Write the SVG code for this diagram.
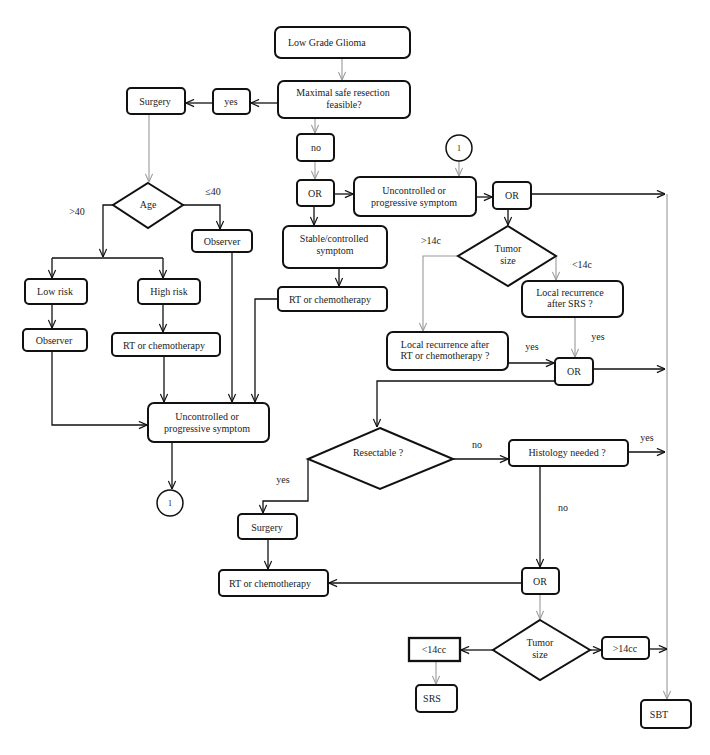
<svg xmlns="http://www.w3.org/2000/svg" width="710" height="755" viewBox="0 0 710 755">
<defs>
<marker id="a" viewBox="0 0 10 10" refX="10" refY="5" markerWidth="9" markerHeight="9" markerUnits="userSpaceOnUse" orient="auto"><path d="M1,1 L10,5 L1,9" fill="none" stroke="#111" stroke-width="1.3"/></marker>
<marker id="g" viewBox="0 0 10 10" refX="10" refY="5" markerWidth="9" markerHeight="9" markerUnits="userSpaceOnUse" orient="auto"><path d="M1,1 L10,5 L1,9" fill="none" stroke="#999" stroke-width="1.2"/></marker>
</defs>
<style>
rect.b{fill:#fff;stroke:#111;stroke-width:2}
rect.sq{fill:#fff;stroke:#111;stroke-width:2.3}
polygon{fill:#fff;stroke:#111;stroke-width:2}
circle{fill:#fff;stroke:#111;stroke-width:1.5}
text{font-family:"Liberation Serif","DejaVu Serif",serif;font-size:10px;fill:#222;text-anchor:middle}
text.s{text-anchor:start}
text.c{font-size:8px}
.k{fill:none;stroke:#111;stroke-width:1.3;marker-end:url(#a)}
.kn{fill:none;stroke:#111;stroke-width:1.3}
.gr{fill:none;stroke:#999;stroke-width:1.1;marker-end:url(#g)}
.grn{fill:none;stroke:#999;stroke-width:1.1}
</style>
<rect width="710" height="755" fill="#fff"/>
<g id="connectors">
<line class="gr" x1="342" y1="58" x2="342" y2="80"/>
<line class="gr" x1="315" y1="118" x2="315" y2="133"/>
<line class="gr" x1="315" y1="161" x2="315" y2="179"/>
<line class="gr" x1="149" y1="114" x2="149" y2="182"/>
<line class="gr" x1="459" y1="161" x2="459" y2="176"/>
<polyline class="gr" points="458,256 423,256 423,331"/>
<line class="gr" x1="556" y1="256" x2="556" y2="280"/>
<line class="gr" x1="575" y1="317" x2="575" y2="357"/>
<line class="gr" x1="540" y1="594" x2="540" y2="619"/>
<line class="gr" x1="436" y1="661" x2="436" y2="684"/>
<line class="gr" x1="667" y1="194" x2="667" y2="699"/>
<line class="k" x1="278" y1="103" x2="251" y2="103"/>
<line class="k" x1="213" y1="103" x2="186" y2="103"/>
<line class="k" x1="334" y1="194" x2="353" y2="194"/>
<line class="k" x1="476" y1="197" x2="492" y2="197"/>
<line class="k" x1="531" y1="194" x2="665" y2="194"/>
<line class="k" x1="314" y1="206" x2="314" y2="225"/>
<line class="k" x1="339" y1="268" x2="339" y2="286"/>
<line class="k" x1="508" y1="209" x2="508" y2="225"/>
<line class="k" x1="508" y1="363" x2="554" y2="363"/>
<line class="k" x1="593" y1="369" x2="665" y2="369"/>
<polyline class="k" points="555,381 377,381 377,427"/>
<line class="k" x1="453" y1="459" x2="508" y2="459"/>
<line class="k" x1="628" y1="452" x2="665" y2="452"/>
<line class="k" x1="540" y1="466" x2="540" y2="567"/>
<line class="k" x1="522" y1="583" x2="329" y2="583"/>
<polyline class="k" points="308,459 308,501 263,501 263,513"/>
<line class="k" x1="268" y1="539" x2="268" y2="569"/>
<line class="k" x1="493" y1="650" x2="461" y2="650"/>
<line class="k" x1="590" y1="650" x2="601" y2="650"/>
<line class="k" x1="649" y1="649" x2="667" y2="649"/>
<polyline class="k" points="183,205 220,205 220,229"/>
<polyline class="k" points="113,205 103,205 103,257"/>
<line class="kn" x1="52" y1="258" x2="163" y2="258"/>
<line class="k" x1="52" y1="258" x2="52" y2="278"/>
<line class="k" x1="163" y1="258" x2="163" y2="278"/>
<line class="k" x1="52" y1="304" x2="52" y2="328"/>
<line class="k" x1="163" y1="304" x2="163" y2="332"/>
<polyline class="k" points="52,351 52,425 147,425"/>
<line class="k" x1="164" y1="356" x2="164" y2="402"/>
<line class="k" x1="232" y1="252" x2="232" y2="402"/>
<polyline class="k" points="278,299 255,299 255,402"/>
<line class="k" x1="172" y1="442" x2="172" y2="489"/>
</g>
<g id="labels">
<text x="213" y="195">≤40</text>
<text x="77" y="215">&gt;40</text>
<text x="431" y="244">&gt;14c</text>
<text x="582" y="268">&lt;14c</text>
<text x="598" y="340">yes</text>
<text x="532" y="350">yes</text>
<text x="477" y="448">no</text>
<text x="647" y="441">yes</text>
<text x="563" y="511">no</text>
<text x="283" y="483">yes</text>
</g>
<g id="n_lgg"><rect class="b" x="275" y="27" width="135" height="31" rx="6"/><text class="s" x="288" y="46">Low Grade Glioma</text></g>
<g id="n_max"><rect class="b" x="278" y="81" width="132" height="37" rx="6"/><text x="343" y="96">Maximal safe resection</text><text x="344" y="108">feasible?</text></g>
<g id="n_yes"><rect class="b" x="213" y="89" width="37" height="25" rx="4"/><text x="231" y="105">yes</text></g>
<g id="n_surgery1"><rect class="b" x="127" y="88" width="58" height="26" rx="4"/><text x="155" y="105">Surgery</text></g>
<g id="n_no"><rect class="b" x="297" y="134" width="37" height="27" rx="4"/><text x="316" y="151">no</text></g>
<g id="n_or1"><rect class="b" x="297" y="180" width="37" height="26" rx="4"/><text x="315" y="197">OR</text></g>
<g id="n_unc_mid"><rect class="b" x="354" y="177" width="122" height="39" rx="6"/><text x="414" y="194">Uncontrolled or</text><text x="414" y="206">progressive symptom</text></g>
<g id="c1_top"><circle cx="459" cy="148" r="13"/><text class="c" x="459" y="151">1</text></g>
<g id="n_or2"><rect class="b" x="493" y="182" width="38" height="27" rx="4"/><text x="512" y="199">OR</text></g>
<g id="n_stable"><rect class="b" x="283" y="226" width="104" height="42" rx="6"/><text x="334" y="242">Stable/controlled</text><text x="335" y="254">symptom</text></g>
<g id="n_rt_mid"><rect class="b" x="278" y="287" width="109" height="24" rx="4"/><text x="330" y="303">RT or chemotherapy</text></g>
<g id="d_tumor1"><polygon points="508,226 556,256 508,286 458,256"/><text x="508" y="252">Tumor</text><text x="508" y="264">size</text></g>
<g id="n_lr_srs"><rect class="b" x="522" y="281" width="101" height="36" rx="6"/><text x="570" y="296">Local recurrence</text><text x="570" y="307">after SRS ?</text></g>
<g id="n_lr_rt"><rect class="b" x="387" y="332" width="121" height="38" rx="6"/><text x="445" y="348">Local recurrence after</text><text x="445" y="359">RT or chemotherapy ?</text></g>
<g id="n_or3"><rect class="b" x="555" y="358" width="38" height="27" rx="4"/><text x="574" y="375">OR</text></g>
<g id="d_resect"><polygon points="380,428 453,459 380,489 308,459"/><text x="378" y="456">Resectable ?</text></g>
<g id="n_hist"><rect class="b" x="509" y="440" width="119" height="26" rx="4"/><text x="567" y="456">Histology needed ?</text></g>
<g id="n_surgery2"><rect class="b" x="238" y="514" width="59" height="25" rx="4"/><text x="267" y="531">Surgery</text></g>
<g id="n_rt_bot"><rect class="b" x="219" y="570" width="109" height="26" rx="4"/><text x="270" y="587">RT or chemotherapy</text></g>
<g id="n_or4"><rect class="b" x="522" y="568" width="37" height="26" rx="4"/><text x="540" y="585">OR</text></g>
<g id="d_tumor2"><polygon points="540,620 590,650 540,680 493,650"/><text x="540" y="646">Tumor</text><text x="540" y="658">size</text></g>
<g id="n_lt14"><rect class="sq" x="409" y="638" width="51" height="23"/><text x="434" y="653">&lt;14cc</text></g>
<g id="n_srs"><rect class="b" x="416" y="685" width="41" height="27" rx="4"/><text x="432" y="702">SRS</text></g>
<g id="n_gt14"><rect class="b" x="602" y="637" width="47" height="22" rx="4"/><text x="625" y="652">&gt;14cc</text></g>
<g id="n_sbt"><rect class="b" x="641" y="700" width="50" height="28" rx="4"/><text x="659" y="718">SBT</text></g>
<g id="d_age"><polygon points="148,183 183,205 148,228 113,205"/><text x="148" y="208">Age</text></g>
<g id="n_obs_r"><rect class="b" x="192" y="230" width="60" height="22" rx="4"/><text x="222" y="245">Observer</text></g>
<g id="n_low"><rect class="b" x="25" y="279" width="62" height="25" rx="4"/><text x="55" y="295">Low risk</text></g>
<g id="n_high"><rect class="b" x="138" y="279" width="62" height="25" rx="4"/><text x="169" y="295">High risk</text></g>
<g id="n_obs_l"><rect class="b" x="23" y="329" width="64" height="22" rx="4"/><text x="54" y="344">Observer</text></g>
<g id="n_rt_left"><rect class="b" x="112" y="333" width="108" height="23" rx="4"/><text x="164" y="349">RT or chemotherapy</text></g>
<g id="n_unc_left"><rect class="b" x="148" y="403" width="121" height="39" rx="6"/><text x="207" y="420">Uncontrolled or</text><text x="207" y="432">progressive symptom</text></g>
<g id="c1_left"><circle cx="170" cy="503" r="13"/><text class="c" x="170" y="506">1</text></g>
</svg>
